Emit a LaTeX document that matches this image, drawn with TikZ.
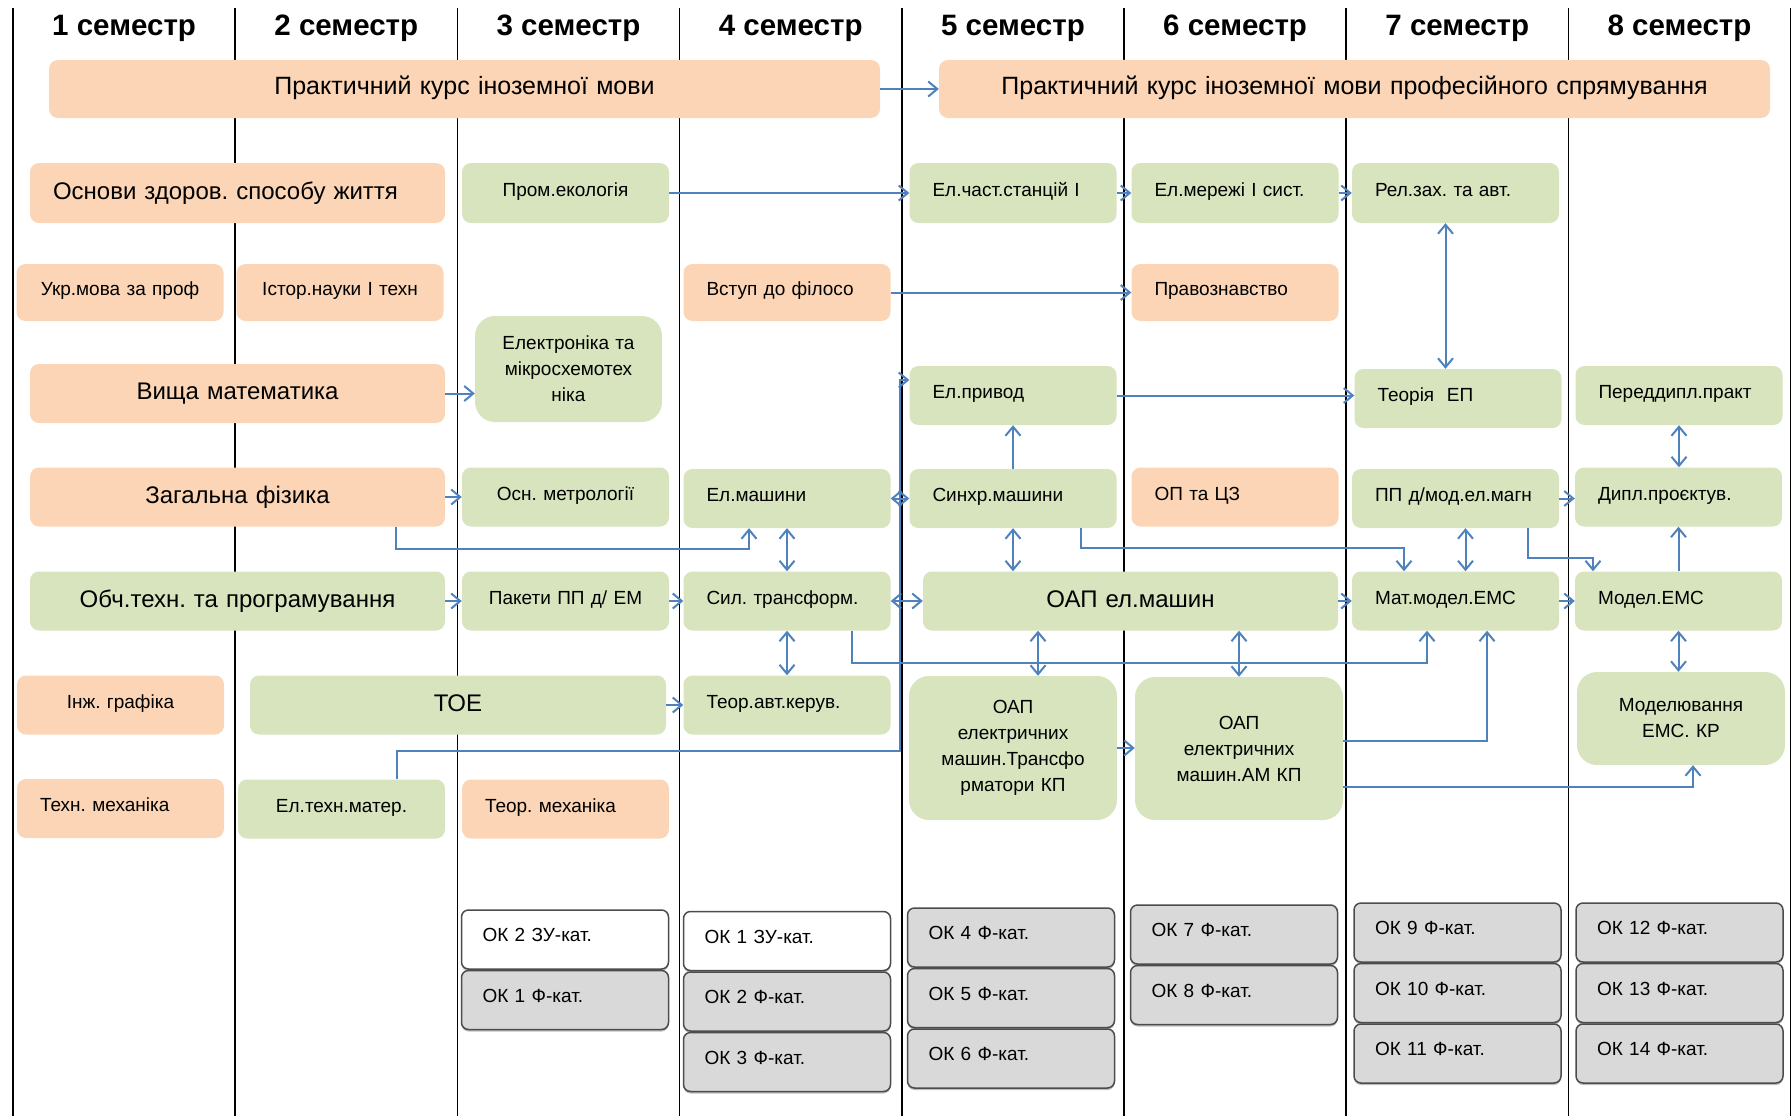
\documentclass[tikz,border=0pt]{standalone}
\usepackage{fontspec}
\setmainfont{Liberation Sans}
\usetikzlibrary{arrows.meta,
                positioning,
                shadows}

\definecolor{persyk}{HTML}{FBD5B5}
\definecolor{olyva}{HTML}{D7E4BD}
\definecolor{siryi}{HTML}{D9D9D9}
\definecolor{synii}{HTML}{4F81BD}
\newcommand{\dribnyi}{\fontsize{19}{26}\selectfont}
\newcommand{\velykyi}{\fontsize{24}{29}\selectfont}
\newcommand{\zagol}{\fontsize{29.5}{33}\selectfont\bfseries}
\frenchspacing

\begin{document}
\begin{tikzpicture}[x=1pt, y=-1pt,
    kurs/.style={rounded corners=9pt, inner xsep=23pt, inner ysep=0pt, text width=161pt,
                 minimum height=59pt, align=center, font=\dribnyi},
    odn/.style={text height=14pt, text depth=8pt},
    gum/.style={kurs, odn, fill=persyk},
    fakh/.style={kurs, odn, fill=olyva},
    fakhv/.style={kurs, fill=olyva, rounded corners=20pt, text width=162pt, minimum height=#1},
    livo/.style={align=left},
    shyr/.style={text width=#1, font=\velykyi, text height=17pt, text depth=5pt},
    okkat/.style={kurs, align=left, inner xsep=21pt, text width=165pt, rounded corners=7pt,
                  text height=14pt, text depth=10pt,
                  draw=black!70, line width=1.5pt, fill=siryi,
                  drop shadow={shadow xshift=0pt, shadow yshift=-2pt, fill=black!50}},
    okzu/.style={okkat, fill=white},
    zv/.style={draw=synii, line width=2pt, ->},
    zv2/.style={draw=synii, line width=2pt, <->},
    >={Straight Barb[length=9pt, width=15pt]}]

    \useasboundingbox (0,0) rectangle (1792,1116);

    % semesters
    \foreach \i in {0,...,8}
        \draw[line width=1.5pt] (13+222.2*\i, 8) -- (13+222.2*\i, 1116);
    \foreach \i in {1,...,8}
        \node[font=\zagol] (sem\i) at (13+222.2*\i-111.1, 28) {\i~семестр};

    % row 1
    \node[gum, shyr=785pt, minimum height=58pt, font=\fontsize{25}{29}\selectfont] (pkim) at (464.5,89) {Практичний курс іноземної мови};
    \node[gum, shyr=785pt, minimum height=58pt, font=\fontsize{25}{29}\selectfont] (pkimps) at (1354.5,89) {Практичний курс іноземної мови професійного спрямування};

    % row 2
    \node[gum, shyr=369pt, livo, minimum height=60pt] (osnovy) at (237.5,193) {Основи здоров. способу життя};
    \node[fakh, minimum height=60pt] (promeko) at (565.5,193) {Пром.екологія};
    \node[fakh, livo, minimum height=60pt] (elstanc) at (1013,193) {Ел.част.станцій І};
    \node[fakh, livo, minimum height=60pt] (elmerezhi) at (1235,193) {Ел.мережі І сист.};
    \node[fakh, livo, minimum height=60pt] (relzakh) at (1455.5,193) {Рел.зах. та авт.};

    % row 3
    \node[gum, minimum height=57pt] (ukrmova) at (120,292.5) {Укр.мова за проф};
    \node[gum, minimum height=57pt] (istor) at (340,292.5) {Істор.науки І техн};
    \node[gum, livo, minimum height=57pt] (vstup) at (787,292.5) {Вступ до філосо};
    \node[gum, livo, minimum height=57pt] (pravo) at (1235,292.5) {Правознавство};

    % row 4
    \node[fakhv=106pt, text width=141pt] (elektron) at (568.5,369) {Електроніка та\\мікросхемотех\\ніка};
    \node[gum, shyr=369pt] (vyshcha) at (237.5,393.5) {Вища математика};
    \node[fakh, livo] (elpryvod) at (1013,395.5) {Ел.привод};
    \node[fakh, livo] (teoriya) at (1458,398.5) {Теорія\ \ ЕП};
    \node[fakh, livo] (peredyp) at (1679,395.5) {Переддипл.практ};

    % row 5
    \node[gum, shyr=369pt] (zahfiz) at (237.5,497) {Загальна фізика};
    \node[fakh] (metrol) at (565.5,497) {Осн. метрології};
    \node[fakh, livo] (elmash) at (787,498.5) {Ел.машини};
    \node[fakh, livo] (synkhr) at (1013,498.5) {Синхр.машини};
    \node[gum, livo] (optacz) at (1235,497) {ОП та ЦЗ};
    \node[fakh, livo] (ppmod) at (1455.5,498.5) {ПП д/мод.ел.магн};
    \node[fakh, livo] (dyplom) at (1678.5,497) {Дипл.проєктув.};

    % row 6
    \node[fakh, shyr=369pt] (obch) at (237.5,601) {Обч.техн. та програмування};
    \node[fakh] (pakety) at (565.5,601) {Пакети ПП д/ ЕМ};
    \node[fakh, livo] (syltr) at (787,601) {Сил. трансформ.};
    \node[fakh, shyr=369pt] (oapmash) at (1130.5,601) {ОАП ел.машин};
    \node[fakh, livo] (matmod) at (1455.5,601) {Мат.модел.ЕМС};
    \node[fakh, livo] (modems) at (1678.5,601) {Модел.ЕМС};

    % row 7
    \node[gum] (inzh) at (120.5,705) {Інж. графіка};
    \node[fakh, shyr=370pt] (toe) at (458,705) {ТОЕ};
    \node[fakh, livo] (teoravt) at (787,705) {Теор.авт.керув.};
    \node[fakhv=144pt] (oaptr) at (1013,748) {ОАП\\електричних\\машин.Трансфо\\рматори КП};
    \node[fakhv=143pt] (oapam) at (1239,748.5) {ОАП\\електричних\\машин.АМ КП};
    \node[fakhv=93pt] (modkr) at (1681,718.5) {Моделювання\\ЕМС. КР};

    % row 8
    \node[gum, livo] (tekhmekh) at (120.5,808.5) {Техн. механіка};
    \node[fakh] (eltekhn) at (341.5,809) {Ел.техн.матер.};
    \node[gum, livo] (teormekh) at (565.5,809) {Теор. механіка};

    % OK
    \node[okzu] (ok2zu) at (565,939.5) {ОК 2 ЗУ-кат.};
    \node[okkat, below=0pt of ok2zu] (ok1f) {ОК 1 Ф-кат.};
    \node[okzu] (ok1zu) at (787,941) {ОК 1 ЗУ-кат.};
    \node[okkat, below=0pt of ok1zu] (ok2f) {ОК 2 Ф-кат.};
    \node[okkat, below=0pt of ok2f] (ok3f) {ОК 3 Ф-кат.};
    \node[okkat] (ok4f) at (1011,937.5) {ОК 4 Ф-кат.};
    \node[okkat, below=0pt of ok4f] (ok5f) {ОК 5 Ф-кат.};
    \node[okkat, below=0pt of ok5f] (ok6f) {ОК 6 Ф-кат.};
    \node[okkat] (ok7f) at (1234,934.5) {ОК 7 Ф-кат.};
    \node[okkat, below=0pt of ok7f] (ok8f) {ОК 8 Ф-кат.};
    \node[okkat] (ok9f) at (1457.5,932.5) {ОК 9 Ф-кат.};
    \node[okkat, below=0pt of ok9f] (ok10f) {ОК 10 Ф-кат.};
    \node[okkat, below=0pt of ok10f] (ok11f) {ОК 11 Ф-кат.};
    \node[okkat] (ok12f) at (1679.5,932.5) {ОК 12 Ф-кат.};
    \node[okkat, below=0pt of ok12f] (ok13f) {ОК 13 Ф-кат.};
    \node[okkat, below=0pt of ok13f] (ok14f) {ОК 14 Ф-кат.};

    % connections
    \draw[zv] (pkim.east) -- (pkimps.west);
    \draw[zv] (promeko.east) -- (elstanc.west);
    \draw[zv] (elstanc.east) -- (elmerezhi.west);
    \draw[zv] (elmerezhi.east) -- (relzakh.west);
    \draw[zv] (vstup.east) -- (pravo.west);
    \draw[zv2] ([xshift=-10pt]relzakh.south) -- ([xshift=-10pt]relzakh.south |- teoriya.north);
    \draw[zv] (vyshcha.east) -- (vyshcha.east -| elektron.west);
    \draw[zv] (elpryvod.east) -- (elpryvod.east -| teoriya.west);
    \draw[zv] (zahfiz.east) -- (metrol.west);
    \draw[zv2] (elmash.east) -- (synkhr.west);
    \draw[zv] (ppmod.east) -- (ppmod.east -| dyplom.west);
    \draw[zv2] (peredyp.south) -- (peredyp.south |- dyplom.north);
    \draw[zv] (synkhr.north) -- (elpryvod.south);
    \draw[zv] ([xshift=158.5pt]zahfiz.south) -- ++(0,22) -| ([xshift=-38pt]elmash.south);
    \draw[zv2] (elmash.south) -- (syltr.north);
    \draw[zv] (obch.east) -- (pakety.west);
    \draw[zv] (pakety.east) -- (syltr.west);
    \draw[zv2] (syltr.east) -- (oapmash.west);
    \draw[zv2] (synkhr.south) -- (synkhr.south |- oapmash.north);
    \draw[zv] (oapmash.east) -- (matmod.west);
    \draw[zv] (matmod.east) -- (modems.west);
    \draw[zv] (modems.north) -- (dyplom.south);
    \draw[zv2] ([xshift=10pt]ppmod.south) -- ([xshift=10pt]matmod.north);
    \draw[zv] ([xshift=68pt]synkhr.south) -- ++(0,20) -| ([xshift=-51.5pt]matmod.north);
    \draw[zv] ([xshift=72pt]ppmod.south) -- ++(0,30) -| ([xshift=-85.5pt]modems.north);
    \draw[zv2] (syltr.south) -- (teoravt.north);
    \draw[zv2] (modems.south) -- (modems.south |- modkr.north);
    \draw[zv] (toe.east) -- (teoravt.west);
    \draw[zv] ([xshift=65pt]syltr.south) -- ++(0,32) -| ([xshift=-28.5pt]matmod.south);
    \draw[zv2] ([xshift=25pt]oaptr.north) -- ([xshift=25pt]oaptr.north |- oapmash.south);
    \draw[zv2] (oapam.north) -- (oapam.north |- oapmash.south);
    \draw[zv] (oaptr.east) -- (oaptr.east -| oapam.west);
    \draw[zv] ([yshift=7.5pt]oapam.east) -| ([xshift=31.5pt]matmod.south);
    \draw[zv] ([yshift=-38.5pt]oapam.east) -| ([xshift=12pt]modkr.south);
    \coordinate (povorot) at (900,751);
    \draw[zv] ([xshift=55pt]eltekhn.north) |- (povorot) |- ([yshift=15.5pt]elpryvod.west);

\end{tikzpicture}
\end{document}
